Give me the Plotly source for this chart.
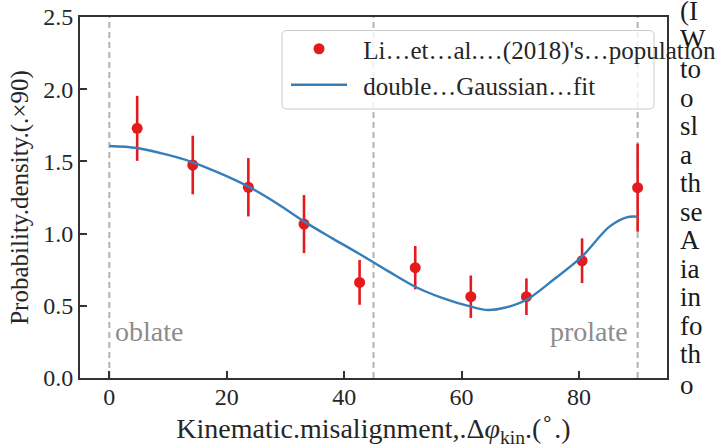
import plotly.graph_objects as go

# ---- data ----
pts_x = [4.74, 14.21, 23.68, 33.16, 42.63, 52.11, 61.58, 71.05, 80.53, 90.0]
pts_y = [1.729, 1.475, 1.321, 1.066, 0.662, 0.764, 0.563, 0.563, 0.812, 1.318]
pts_err = [0.225, 0.203, 0.202, 0.201, 0.155, 0.150, 0.147, 0.127, 0.155, 0.305]

fit_x = [0, 4.7, 9.5, 14.2, 19, 23.7, 28.5, 33.2, 38, 42.7, 47.4, 52.1, 56.8,
         61.6, 64.5, 67.5, 71.0, 75.7, 80.5, 85.2, 88.1, 90]
fit_y = [1.607, 1.593, 1.55, 1.494, 1.415, 1.325, 1.21, 1.083, 0.967, 0.857, 0.742,
         0.632, 0.553, 0.494, 0.471, 0.488, 0.540, 0.682, 0.840, 1.048, 1.113, 1.117]

ref_lines = [0, 45, 90]
x_ticks = [0, 20, 40, 60, 80]
y_ticks = [0.0, 0.5, 1.0, 1.5, 2.0, 2.5]

series_names = ["Li…et…al.…(2018)'s…population", "double…Gaussian…fit"]
side_text = ["(I", "W", "to", "o", "sl", "a", "th", "se", "A", "ia", "in", "fo", "th", "o"]
side_center_px = [12, 40, 70, 99, 127, 156, 184, 213, 241, 270, 298, 327, 355, 386]

# ---- layout geometry (pixels) ----
W, H = 719, 448
L, R, T, B = 80, 52, 17, 70
PW, PH = W - L - R, H - T - B
FONT = "Liberation Serif"
RED = "#e41a1c"
BLUE = "#377eb8"
DARK = "#333333"
TXT = "#262626"
PAD = "\u00a0\u2009"


def px2paper(px, py):
    return (px - L) / PW, (H - B - py) / PH


fig = go.Figure()

fig.add_trace(go.Scatter(
    x=pts_x, y=pts_y, mode="markers", name=PAD + series_names[0], legend="legend",
    marker=dict(color=RED, size=11),
    error_y=dict(type="data", array=pts_err, color=RED, thickness=2.6, width=0),
))
fig.add_trace(go.Scatter(
    x=fit_x, y=fit_y, mode="lines", name=PAD + series_names[1], legend="legend2",
    line=dict(color=BLUE, width=2.4, shape="spline"),
))

shapes = []
for xv in ref_lines:
    shapes.append(dict(type="line", xref="x", yref="paper", x0=xv, x1=xv, y0=0, y1=1,
                       line=dict(color="#b3b3b3", width=2, dash="6px,4px"), layer="below"))

# legend frame (rounded, semi-transparent)
x0, y0 = px2paper(282, 109)
x1, y1 = px2paper(654, 30.5)
rx, ry = 5 / PW, 5 / PH
path = (f"M{x0+rx},{y0} L{x1-rx},{y0} Q{x1},{y0} {x1},{y0+ry} L{x1},{y1-ry} "
        f"Q{x1},{y1} {x1-rx},{y1} L{x0+rx},{y1} Q{x0},{y1} {x0},{y1-ry} "
        f"L{x0},{y0+ry} Q{x0},{y0} {x0+rx},{y0} Z")
shapes.append(dict(type="path", xref="paper", yref="paper", path=path,
                   fillcolor="rgba(255,255,255,0.8)", line=dict(color="#cccccc", width=1),
                   layer="above"))

annotations = [
    dict(x=ref_lines[0], y=0.325, xref="x", yref="y", text="oblate", showarrow=False,
         xanchor="left", yanchor="middle", xshift=4, font=dict(family=FONT, size=28, color="#8c8c8c")),
    dict(x=ref_lines[2], y=0.325, xref="x", yref="y", text="prolate", showarrow=False,
         xanchor="right", yanchor="middle", xshift=-8, font=dict(family=FONT, size=28, color="#8c8c8c")),
]
for txt, cy in zip(side_text, side_center_px):
    xp, yp = px2paper(678, cy - 1)
    annotations.append(dict(x=xp, y=yp, xref="paper", yref="paper", text=txt, showarrow=False,
                            xanchor="left", yanchor="middle",
                            font=dict(family=FONT, size=27, color="#1a1a1a")))

leg_common = dict(xanchor="left", yanchor="middle", bgcolor="rgba(0,0,0,0)", borderwidth=0,
                  font=dict(family=FONT, size=25, color=TXT), itemwidth=56, tracegroupgap=0)
l1x, l1y = px2paper(286, 49)
l2x, l2y = px2paper(286, 85)

fig.update_layout(
    width=W, height=H,
    margin=dict(l=L, r=R, t=T, b=B, pad=0, autoexpand=False),
    paper_bgcolor="white", plot_bgcolor="white",
    font=dict(family=FONT, color=TXT, size=24),
    showlegend=True,
    legend=dict(x=l1x, y=l1y, **leg_common),
    legend2=dict(x=l2x, y=l2y, **leg_common),
    shapes=shapes,
    annotations=annotations,
    xaxis=dict(range=[-5, 95], tickvals=x_ticks, ticks="inside", ticklen=7, tickwidth=1.5,
               tickcolor=DARK, showline=True, linecolor=DARK, linewidth=1.8, mirror=True,
               showgrid=False, zeroline=False, automargin=True, ticklabelstandoff=-4,
               tickfont=dict(family=FONT, size=24, color=TXT),
               title=dict(text="Kinematic.misalignment,.Δ<i>φ</i><sub>kin</sub>.(<sup>∘</sup>.)",
                          font=dict(family=FONT, size=28, color=TXT), standoff=4)),
    yaxis=dict(range=[0, 2.5], tickvals=y_ticks, tickformat=".1f", ticks="inside", ticklen=7,
               tickwidth=1.5, tickcolor=DARK, showline=True, linecolor=DARK, linewidth=1.8,
               mirror=True, showgrid=False, zeroline=False, ticklabelstandoff=0, automargin=True,
               tickfont=dict(family=FONT, size=24, color=TXT),
               title=dict(text="Probability.density.(.×90)",
                          font=dict(family=FONT, size=25, color=TXT), standoff=8)),
)

fig.write_html("out.html")
